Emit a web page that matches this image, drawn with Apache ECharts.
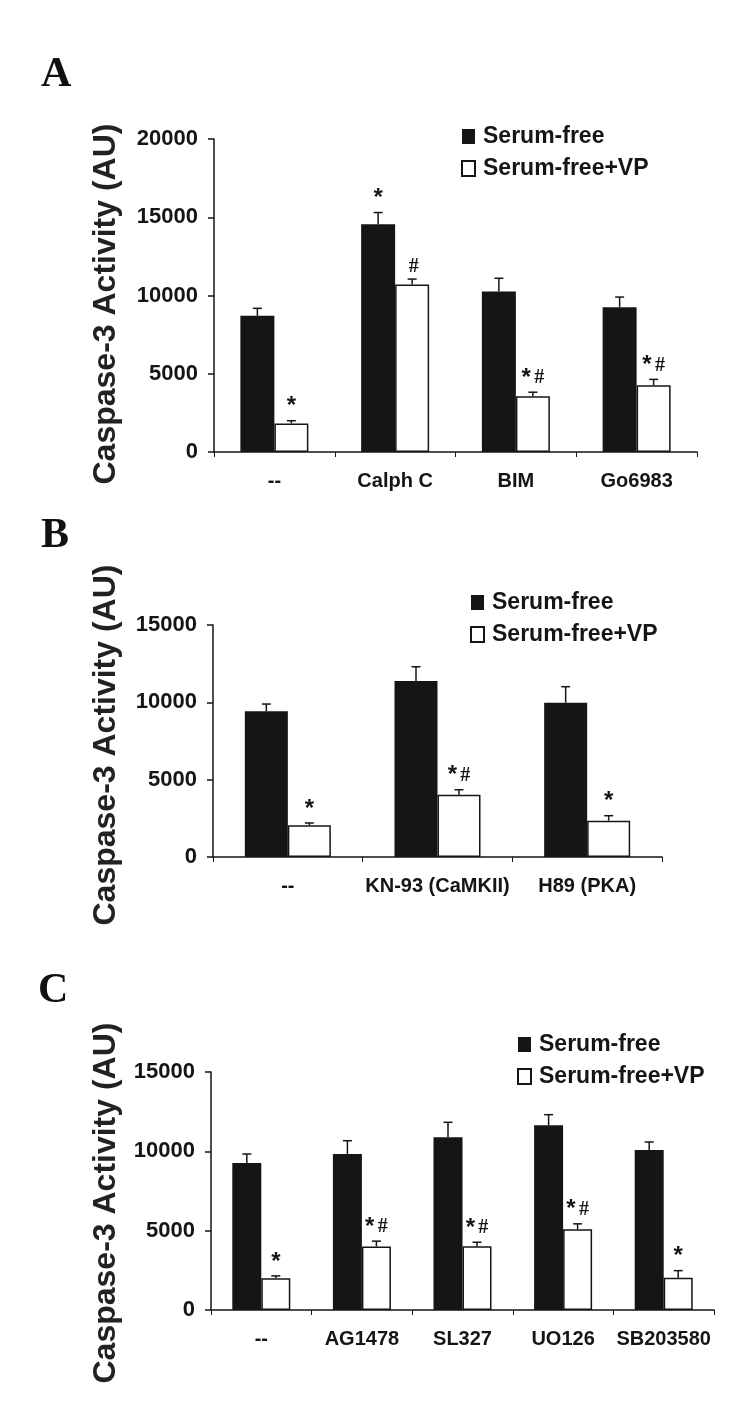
<!DOCTYPE html>
<html>
<head>
<meta charset="utf-8">
<script src="https://cdn.jsdelivr.net/npm/echarts@6/dist/echarts.min.js"></script>
<style>
  html, body { margin: 0; padding: 0; background: #fff; }
  #chart { width: 750px; height: 1412px; }
</style>
</head>
<body>
<div id="chart"></div>
<script>
// panel A
const catsA = ['--', 'Calph C', 'BIM', 'Go6983'];
const serumA = [8700, 14550, 10250, 9250];
const serumErrA = [480, 750, 850, 650];
const vpA = [1820, 10700, 3570, 4270];
const vpErrA = [180, 350, 250, 370];
const markSerumA = ['', '*', '', ''];
const markVpA = ['*', '#', '*#', '*#'];

// panel B
const catsB = ['--', 'KN-93 (CaMKII)', 'H89 (PKA)'];
const serumB = [9420, 11380, 9980];
const serumErrB = [470, 920, 1030];
const vpB = [2050, 4030, 2350];
const vpErrB = [150, 320, 320];
const markSerumB = ['', '', ''];
const markVpB = ['*', '*#', '*'];

// panel C
const catsC = ['--', 'AG1478', 'SL327', 'UO126', 'SB203580'];
const serumC = [9260, 9830, 10880, 11640, 10080];
const serumErrC = [570, 840, 950, 670, 510];
const vpC = [2000, 4000, 4020, 5090, 2040];
const vpErrC = [150, 340, 250, 340, 440];
const markSerumC = ['', '', '', '', ''];
const markVpC = ['*', '*#', '*#', '*#', '*'];

const yTicksA = { max: 20000, interval: 5000 };
const yTicksBC = { max: 15000, interval: 5000 };

const SANS = '"Liberation Sans", Arial, sans-serif';
const SERIF = '"Liberation Serif", "Times New Roman", serif';
const INK = '#151515';

const chart = echarts.init(document.getElementById('chart'));

// rich text for the significance marks
const markRich = {
  s: { fontFamily: SANS, fontWeight: 'bold', fontSize: 24, fill: INK },
  h: { fontFamily: SERIF, fontWeight: 'bold', fontSize: 20, fill: INK }
};
function markText(m) {
  return m.split('').map(c => c === '*' ? '{s|*}' : ' {h|#}').join('');
}

// error bar (upper half only) + mark text
function errorRender(marks, side, barW) {
  return function (params, api) {
    const cat = api.value(0), val = api.value(1), err = api.value(2);
    const base = api.coord([cat, val]);
    const top = api.coord([cat, val + err]);
    const x = base[0] + side * barW / 2;
    const cap = 4.5;
    const children = [
      { type: 'line', shape: { x1: x, y1: base[1], x2: x, y2: top[1] }, style: { stroke: INK, lineWidth: 1.5 } },
      { type: 'line', shape: { x1: x - cap, y1: top[1], x2: x + cap, y2: top[1] }, style: { stroke: INK, lineWidth: 1.5 } }
    ];
    const m = marks[params.dataIndex];
    if (m) {
      children.push({
        type: 'text',
        x: x, y: top[1] - 2,
        style: { text: markText(m), rich: markRich, align: 'center', verticalAlign: 'bottom' }
      });
    }
    return { type: 'group', children: children };
  };
}

function panelSeries(idx, serum, serumErr, vp, vpErr, markS, markV, barW) {
  const bars = [
    {
      name: 'Serum-free', type: 'bar', xAxisIndex: idx, yAxisIndex: idx,
      data: serum, barWidth: barW, barGap: '0%',
      itemStyle: { color: INK }
    },
    {
      name: 'Serum-free+VP', type: 'bar', xAxisIndex: idx, yAxisIndex: idx,
      data: vp, barWidth: barW, barGap: '0%',
      itemStyle: { color: '#fff', borderColor: INK, borderWidth: 1.5 }
    }
  ];
  const errS = {
    type: 'custom', xAxisIndex: idx, yAxisIndex: idx, z: 5,
    data: serum.map((v, i) => [i, v, serumErr[i]]),
    renderItem: errorRender(markS, -1, barW)
  };
  const errV = {
    type: 'custom', xAxisIndex: idx, yAxisIndex: idx, z: 5,
    data: vp.map((v, i) => [i, v, vpErr[i]]),
    renderItem: errorRender(markV, 1, barW)
  };
  return bars.concat([errS, errV]);
}

function xAxis(idx, cats) {
  return {
    type: 'category', gridIndex: idx, data: cats,
    axisLine: { lineStyle: { color: INK, width: 1.5 } },
    axisTick: { show: true, length: 5, lineStyle: { color: INK, width: 1 } },
    axisLabel: { interval: 0, fontFamily: SANS, fontWeight: 'bold', fontSize: 20, color: INK, margin: 19 }
  };
}
function yAxis(idx, t) {
  return {
    type: 'value', gridIndex: idx, min: 0, max: t.max, interval: t.interval,
    splitLine: { show: false },
    axisLine: { show: true, lineStyle: { color: INK, width: 1.5 } },
    axisTick: { show: true, length: 6, lineStyle: { color: INK, width: 1.5 } },
    axisLabel: {
      formatter: v => String(v),
      fontFamily: SANS, fontWeight: 'bold', fontSize: 22, color: INK, margin: 16
    }
  };
}
function legend(top, left) {
  return {
    top: top, left: left, orient: 'vertical', itemGap: 9,
    itemWidth: 13, itemHeight: 15, icon: 'rect',
    data: ['Serum-free', 'Serum-free+VP'],
    textStyle: { fontFamily: SANS, fontWeight: 'bold', fontSize: 23, color: INK, padding: [0, 0, 0, 3] }
  };
}
function yTitle(cx, cy) {
  return {
    type: 'text', x: cx, y: cy, rotation: Math.PI / 2,
    style: {
      text: 'Caspase-3 Activity (AU)', fontFamily: SANS, fontWeight: 'bold',
      fontSize: 32, fill: '#222', align: 'center', verticalAlign: 'middle'
    }
  };
}
function panelLetter(txt, x, y) {
  return {
    type: 'text', x: x, y: y,
    style: { text: txt, fontFamily: SERIF, fontWeight: 'bold', fontSize: 42, fill: '#111', align: 'left', verticalAlign: 'middle' }
  };
}

const option = {
  backgroundColor: '#fff',
  animation: false,
  grid: [
    { left: 214, right: 53, top: 139, bottom: 960, outerBoundsMode: 'none' },
    { left: 213, right: 88, top: 625, bottom: 555, outerBoundsMode: 'none' },
    { left: 211, right: 36, top: 1072, bottom: 102, outerBoundsMode: 'none' }
  ],
  legend: [legend(120, 456), legend(586, 465), legend(1028, 512)],
  xAxis: [xAxis(0, catsA), xAxis(1, catsB), xAxis(2, catsC)],
  yAxis: [yAxis(0, yTicksA), yAxis(1, yTicksBC), yAxis(2, yTicksBC)],
  series: []
    .concat(panelSeries(0, serumA, serumErrA, vpA, vpErrA, markSerumA, markVpA, 34))
    .concat(panelSeries(1, serumB, serumErrB, vpB, vpErrB, markSerumB, markVpB, 43))
    .concat(panelSeries(2, serumC, serumErrC, vpC, vpErrC, markSerumC, markVpC, 29)),
  graphic: [
    panelLetter('A', 41, 75),
    panelLetter('B', 41, 536),
    panelLetter('C', 38, 991),
    yTitle(106, 304),
    yTitle(106, 745),
    yTitle(106, 1203)
  ]
};
chart.setOption(option);
</script>
</body>
</html>
